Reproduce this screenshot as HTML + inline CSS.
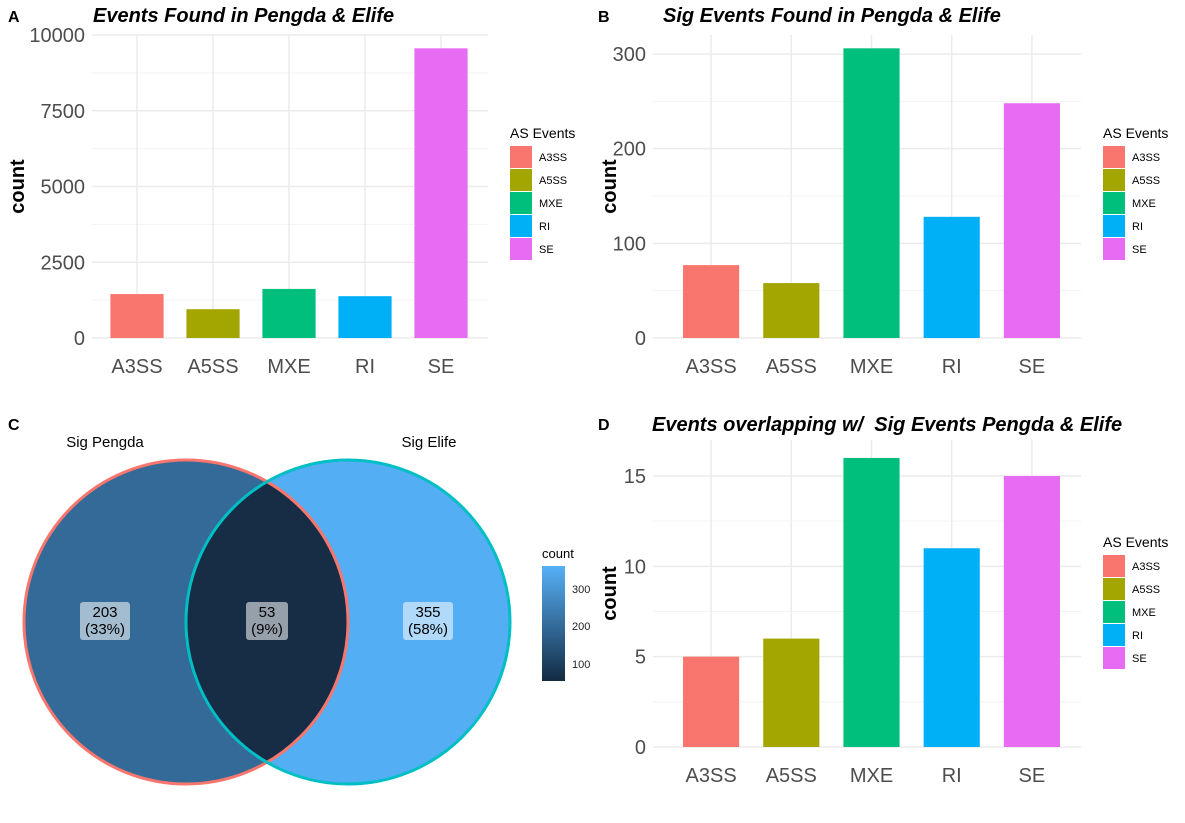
<!DOCTYPE html>
<html><head><meta charset="utf-8"><style>
body{margin:0;background:#fff;font-family:"Liberation Sans",Arial,sans-serif}
svg text{font-family:"Liberation Sans",Arial,sans-serif}
</style></head><body>
<svg id="s" width="1185" height="818" xmlns="http://www.w3.org/2000/svg">
<g font-weight="bold" font-size="16">
<text x="8" y="22">A</text><text x="598" y="22">B</text><text x="8" y="430">C</text><text x="598" y="430">D</text></g>
<g id="venn">
<defs><clipPath id="cl"><circle cx="186" cy="622" r="162"/></clipPath>
<linearGradient id="cg" x1="0" y1="1" x2="0" y2="0"><stop offset="0" stop-color="#132b43"/><stop offset="1" stop-color="#56b1f7"/></linearGradient></defs>
<circle cx="186" cy="622" r="162" fill="#336a98"/>
<circle cx="348" cy="622" r="162" fill="#53aef4"/>
<circle cx="348" cy="622" r="162" fill="#172d46" clip-path="url(#cl)"/>
<circle cx="186" cy="622" r="162" fill="none" stroke="#f8766d" stroke-width="3"/>
<circle cx="348" cy="622" r="162" fill="none" stroke="#00bfc4" stroke-width="3"/>
<text x="105" y="447" font-size="15" text-anchor="middle">Sig Pengda</text>
<text x="429" y="447" font-size="15" text-anchor="middle">Sig Elife</text>
<g font-size="15" text-anchor="middle">
<rect x="80" y="602" width="50" height="38" rx="3" fill="#fff" opacity="0.55"/><text x="105" y="617">203</text><text x="105" y="634">(33%)</text>
<rect x="246" y="602" width="42" height="38" rx="3" fill="#fff" opacity="0.55"/><text x="267" y="617">53</text><text x="267" y="634">(9%)</text>
<rect x="403" y="602" width="50" height="38" rx="3" fill="#fff" opacity="0.55"/><text x="428" y="617">355</text><text x="428" y="634">(58%)</text></g>
<text x="542" y="558" font-size="13">count</text>
<rect x="542" y="566" width="23" height="115" fill="url(#cg)"/>
<g font-size="11" fill="#222"><text x="572" y="593">300</text><text x="572" y="630">200</text><text x="572" y="668">100</text></g>
</g>
</svg>
<script>
const cats=["A3SS","A5SS","MXE","RI","SE"];
const colors=["#f8766d","#a3a500","#00bf7d","#00b0f6","#e76bf3"];
const valsA=[1450,950,1620,1380,9560];
const valsB=[77,58,306,128,248];
const valsD=[5,6,16,11,15];
const ticksA=[0,2500,5000,7500,10000];
const ticksB=[0,100,200,300];
const ticksD=[0,5,10,15];
const NS="http://www.w3.org/2000/svg";
const svg=document.getElementById('s');
function el(t,a,p){const e=document.createElementNS(NS,t);for(const k in a)e.setAttribute(k,a[k]);(p||svg).appendChild(e);return e;}
function panel(o){
 const g=el('g',{});
 
 
 const sy=v=>o.y0-(v/o.ymax)*(o.y0-o.ytop);
 const step=(o.x1-o.x0)/cats.length;
 const cx=i=>o.x0+step*(i+0.5);
 const minor=o.ticks[1]/2;
 const gx0=o.x0-o.gp, gx1=o.x1+9;
 for(let v=minor;v<=o.ymax*1.06;v+=o.ticks[1]){const y=sy(v);if(y<o.top)break;el('line',{x1:gx0,x2:gx1,y1:y,y2:y,stroke:'#f3f3f3','stroke-width':1},g);}
 o.ticks.forEach(t=>{const y=sy(t);el('line',{x1:gx0,x2:gx1,y1:y,y2:y,stroke:'#ebebeb','stroke-width':1.5},g);
  const tx=el('text',{x:gx0-7,y:y+7,'font-size':20,fill:'#4d4d4d','text-anchor':'end'},g);tx.textContent=t;});
 cats.forEach((c,i)=>{el('line',{x1:cx(i),x2:cx(i),y1:o.top,y2:o.y0,stroke:'#ebebeb','stroke-width':1.5},g);});
 o.vals.forEach((v,i)=>{const r=el('rect',{x:cx(i)-step*0.35,width:step*0.7,y:sy(v),height:o.y0-sy(v),fill:colors[i]},g);
  
  
  const tx=el('text',{x:cx(i),y:o.y0+35,'font-size':20,fill:'#4d4d4d','text-anchor':'middle'},g);tx.textContent=cats[i];});
 const yt=el('text',{transform:`translate(${o.ylab},${(o.top+o.y0)/2}) rotate(-90)`,'font-size':20,'font-weight':'bold','text-anchor':'middle'},g);yt.textContent='count';
 
 
 const ti=el('text',{x:o.tx,y:o.ty,'font-size':20,'font-weight':'bold','font-style':'italic'},g);ti.textContent=o.title;
 
 
 const lt=el('text',{x:o.lx,y:o.ly,'font-size':14},g);lt.textContent='AS Events';
 cats.forEach((c,i)=>{const y=o.ly+8+i*23;const r=el('rect',{x:o.lx,y:y,width:22,height:22,fill:colors[i]},g);
  
  
  const t=el('text',{x:o.lx+29,y:y+15,'font-size':11},g);t.textContent=c;});
}
panel({name:'panel-a',x0:99,x1:479,gp:7,y0:338,ytop:35,ymax:10000,top:35,ticks:ticksA,vals:valsA,ylab:24,tx:93,ty:22,title:'Events Found in Pengda & Elife',lx:510,ly:138});
panel({name:'panel-b',x0:671,x1:1072,gp:18,y0:338,ytop:54,ymax:300,top:35,ticks:ticksB,vals:valsB,ylab:616,tx:663,ty:22,title:'Sig Events Found in Pengda & Elife',lx:1103,ly:138});
panel({name:'panel-d',x0:671,x1:1072,gp:18,y0:747,ytop:476,ymax:15,top:440,ticks:ticksD,vals:valsD,ylab:616,tx:652,ty:431,title:'Events overlapping w/\u00a0 Sig Events Pengda & Elife',lx:1103,ly:547});
</script>
</body></html>
